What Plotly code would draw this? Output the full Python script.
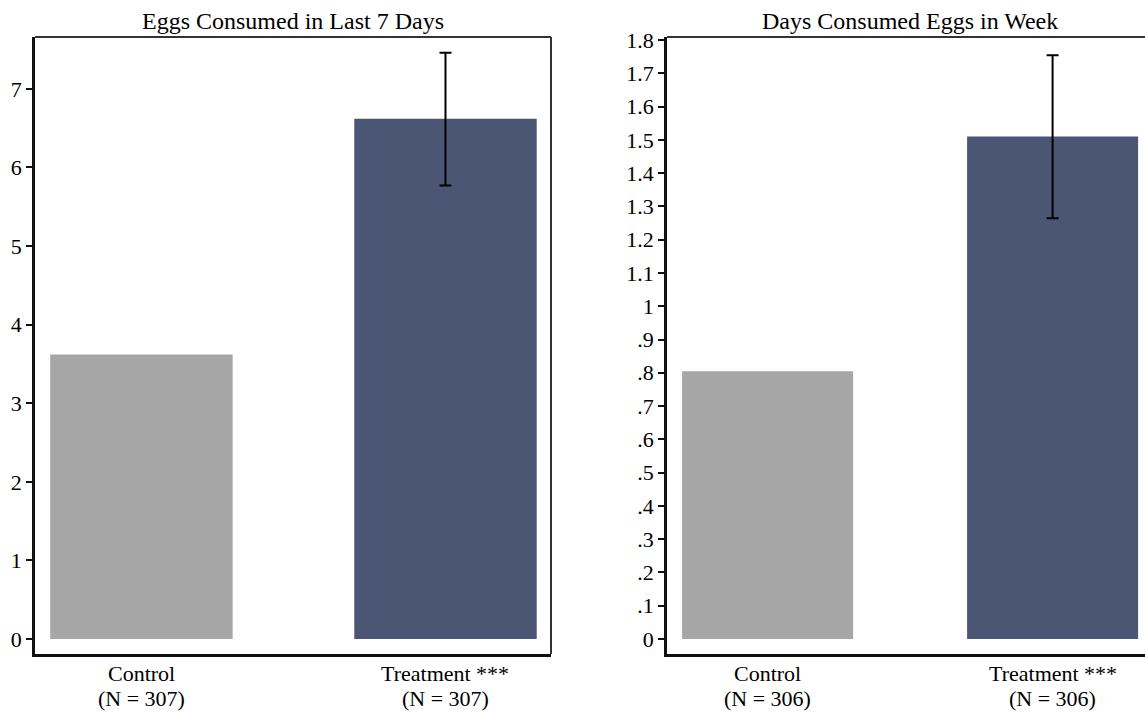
import plotly.graph_objects as go

# ---- data ----
groups_left = ["Control", "Treatment ***"]
nlabels_left = ["(N = 307)", "(N = 307)"]
means_left = [3.62, 6.62]
ci_left_treat = [5.77, 7.46]          # lower, upper bound of treatment CI
groups_right = ["Control", "Treatment ***"]
nlabels_right = ["(N = 306)", "(N = 306)"]
means_right = [0.805, 1.51]
ci_right_treat = [1.264, 1.754]
title_left = "Eggs Consumed in Last 7 Days"
title_right = "Days Consumed Eggs in Week"
yticks_left = [0, 1, 2, 3, 4, 5, 6, 7]
yticks_right = [round(i * 0.1, 1) for i in range(19)]
yticklabels_right = ["0", ".1", ".2", ".3", ".4", ".5", ".6", ".7", ".8", ".9",
                     "1", "1.1", "1.2", "1.3", "1.4", "1.5", "1.6", "1.7", "1.8"]

GREY = "#a6a6a6"
NAVY = "#4a5674"
FONT = "Liberation Serif"
W, H = 1145, 712

fig = go.Figure()

def add_panel(xa, ya, means, ci):
    fig.add_trace(go.Bar(x=[0], y=[means[0]], width=0.6, marker_color=GREY,
                         marker_line_width=0, xaxis=xa, yaxis=ya, showlegend=False))
    fig.add_trace(go.Bar(x=[1], y=[means[1]], width=0.6, marker_color=NAVY,
                         marker_line_width=0, xaxis=xa, yaxis=ya, showlegend=False,
                         error_y=dict(type="data", symmetric=False,
                                      array=[ci[1] - means[1]],
                                      arrayminus=[means[1] - ci[0]],
                                      color="black", thickness=2, width=6)))

add_panel("x", "y", means_left, ci_left_treat)
add_panel("x2", "y2", means_right, ci_right_treat)

tickfont = dict(family=FONT, size=22, color="black")
ydom = [(H - 654) / H, (H - 37) / H]

fig.update_layout(
    width=W, height=H, margin=dict(l=0, r=0, t=0, b=0),
    paper_bgcolor="white", plot_bgcolor="white", barmode="overlay",
    xaxis=dict(domain=[35 / W, 551 / W], range=[-0.35, 1.347],
               tickvals=[0, 1], showticklabels=False,
               showline=True, linecolor="#111", linewidth=2.5, ticks="",
               showgrid=False, zeroline=False, automargin=False, anchor="y"),
    yaxis=dict(domain=ydom, range=[-0.19, 7.66], tickvals=yticks_left,
               tickfont=tickfont, showline=True, linecolor="#111", linewidth=2.5,
               ticks="outside", ticklen=6, tickwidth=1.5, tickcolor="#111",
               showgrid=False, zeroline=False, automargin=False, anchor="x"),
    xaxis2=dict(domain=[667 / W, 1.0], range=[-0.353, -0.353 + (1145 - 667) / 285],
                tickvals=[0, 1], showticklabels=False,
                showline=True, linecolor="#111", linewidth=2.5, ticks="",
                showgrid=False, zeroline=False, automargin=False, anchor="y2"),
    yaxis2=dict(domain=ydom, range=[-0.045, 1.809], tickvals=yticks_right,
                ticktext=yticklabels_right, tickfont=tickfont, showline=True,
                linecolor="#111", linewidth=2.5, ticks="outside", ticklen=6,
                tickwidth=1.5, tickcolor="#111", showgrid=False, zeroline=False,
                automargin=False, anchor="x2"),
)

# category labels (two lines, tighter spacing than plotly's ticktext)
labfont = dict(family=FONT, size=22, color="black")
for xa, groups, nlabs in (("x", groups_left, nlabels_left), ("x2", groups_right, nlabels_right)):
    for i, (g, n) in enumerate(zip(groups, nlabs)):
        fig.add_annotation(text=g, x=i, xref=xa, y=(H - 673.5) / H, yref="paper",
                           showarrow=False, font=labfont, xanchor="center", yanchor="middle",
                           borderpad=0)
        fig.add_annotation(text=n, x=i, xref=xa, y=(H - 698.5) / H, yref="paper",
                           showarrow=False, font=labfont, xanchor="center", yanchor="middle",
                           borderpad=0)

# top / right frame lines
fig.add_shape(type="line", xref="x domain", yref="y domain", x0=0, x1=1, y0=1, y1=1,
              line=dict(color="#333", width=2))
fig.add_shape(type="line", xref="x domain", yref="y domain", x0=1, x1=1, y0=0, y1=1,
              line=dict(color="#333", width=2))
fig.add_shape(type="line", xref="x2 domain", yref="y2 domain", x0=0, x1=1, y0=1, y1=1,
              line=dict(color="#333", width=2))

# titles
titlefont = dict(family=FONT, size=24, color="black")
fig.add_annotation(text=title_left, x=293 / W, y=(H - 21) / H, xref="paper", yref="paper",
                   showarrow=False, font=titlefont, xanchor="center", yanchor="middle")
fig.add_annotation(text=title_right, x=910 / W, y=(H - 21) / H, xref="paper", yref="paper",
                   showarrow=False, font=titlefont, xanchor="center", yanchor="middle")

fig.write_html("out.html")
